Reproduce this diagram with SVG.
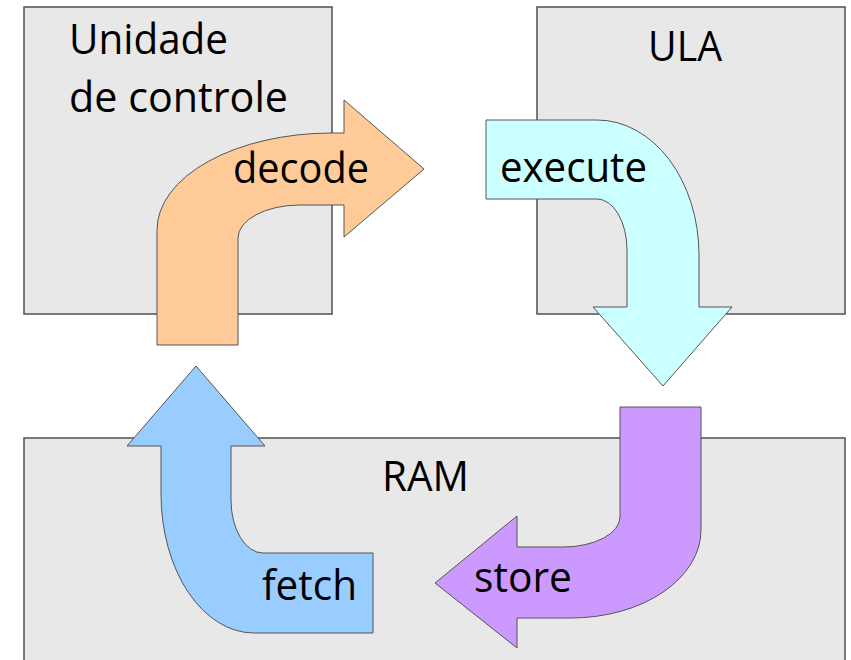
<svg xmlns="http://www.w3.org/2000/svg" width="851" height="660" viewBox="0 0 851 660">
  <style>
    .unit { fill: #e8e8e8; stroke: #505050; stroke-width: 1.5; }
    .arrow { stroke: #555555; stroke-width: 1; stroke-linejoin: miter; }
    .label { font-family: "Open Sans", "Liberation Sans", sans-serif; font-size: 42px; fill: #000000; }
  </style>
  <rect width="851" height="660" fill="#ffffff"/>

  <!-- functional units -->
  <g id="unidade-controle">
    <rect class="unit" x="24" y="7" width="308" height="307"/>
    <text class="label" x="69" y="54" textLength="159" lengthAdjust="spacingAndGlyphs">Unidade</text>
    <text class="label" x="69" y="112" textLength="219" lengthAdjust="spacingAndGlyphs">de controle</text>
  </g>
  <g id="ula">
    <rect class="unit" x="537" y="7" width="308" height="307"/>
    <text class="label" x="648" y="61" textLength="74" lengthAdjust="spacingAndGlyphs">ULA</text>
  </g>
  <g id="ram">
    <rect class="unit" x="24" y="438" width="821" height="240"/>
    <text class="label" x="382" y="491" textLength="87" lengthAdjust="spacingAndGlyphs">RAM</text>
  </g>

  <!-- cycle arrows -->
  <g id="connectors">
    <g id="decode">
      <path class="arrow" fill="#ffcc99" d="M 157,345 L 157,230 A 175,97 0 0 1 332,133 L 344,133 L 344,100 L 424,169 L 344,237 L 344,205 L 300,205 A 62,33 0 0 0 238,238 L 238,345 Z"/>
      <text class="label" x="233" y="183" textLength="136" lengthAdjust="spacingAndGlyphs">decode</text>
    </g>
    <g id="execute">
      <path class="arrow" fill="#ccffff" d="M 486,120 L 597,120 A 102,135 0 0 1 699,255 L 699,307 L 732,307 L 663,386 L 593,307 L 627,307 L 627,250 A 30,51 0 0 0 597,199 L 486,199 Z"/>
      <text class="label" x="500" y="182" textLength="147" lengthAdjust="spacingAndGlyphs">execute</text>
    </g>
    <g id="store">
      <path class="arrow" fill="#cc99ff" d="M 620,407 L 701,407 L 701,530 A 130,88 0 0 1 571,618 L 517,618 L 517,648 L 435,583 L 517,516 L 517,547 L 563,547 A 57,30 0 0 0 620,517 Z"/>
      <text class="label" x="474" y="592" textLength="98" lengthAdjust="spacingAndGlyphs">store</text>
    </g>
    <g id="fetch">
      <path class="arrow" fill="#99ccff" d="M 161,446 L 127,446 L 196,366 L 265,446 L 231,446 L 231,500 A 32,53 0 0 0 263,553 L 373,553 L 373,633 L 254,633 A 93,139 0 0 1 161,494 Z"/>
      <text class="label" x="262" y="600" textLength="95" lengthAdjust="spacingAndGlyphs">fetch</text>
    </g>
  </g>
</svg>
